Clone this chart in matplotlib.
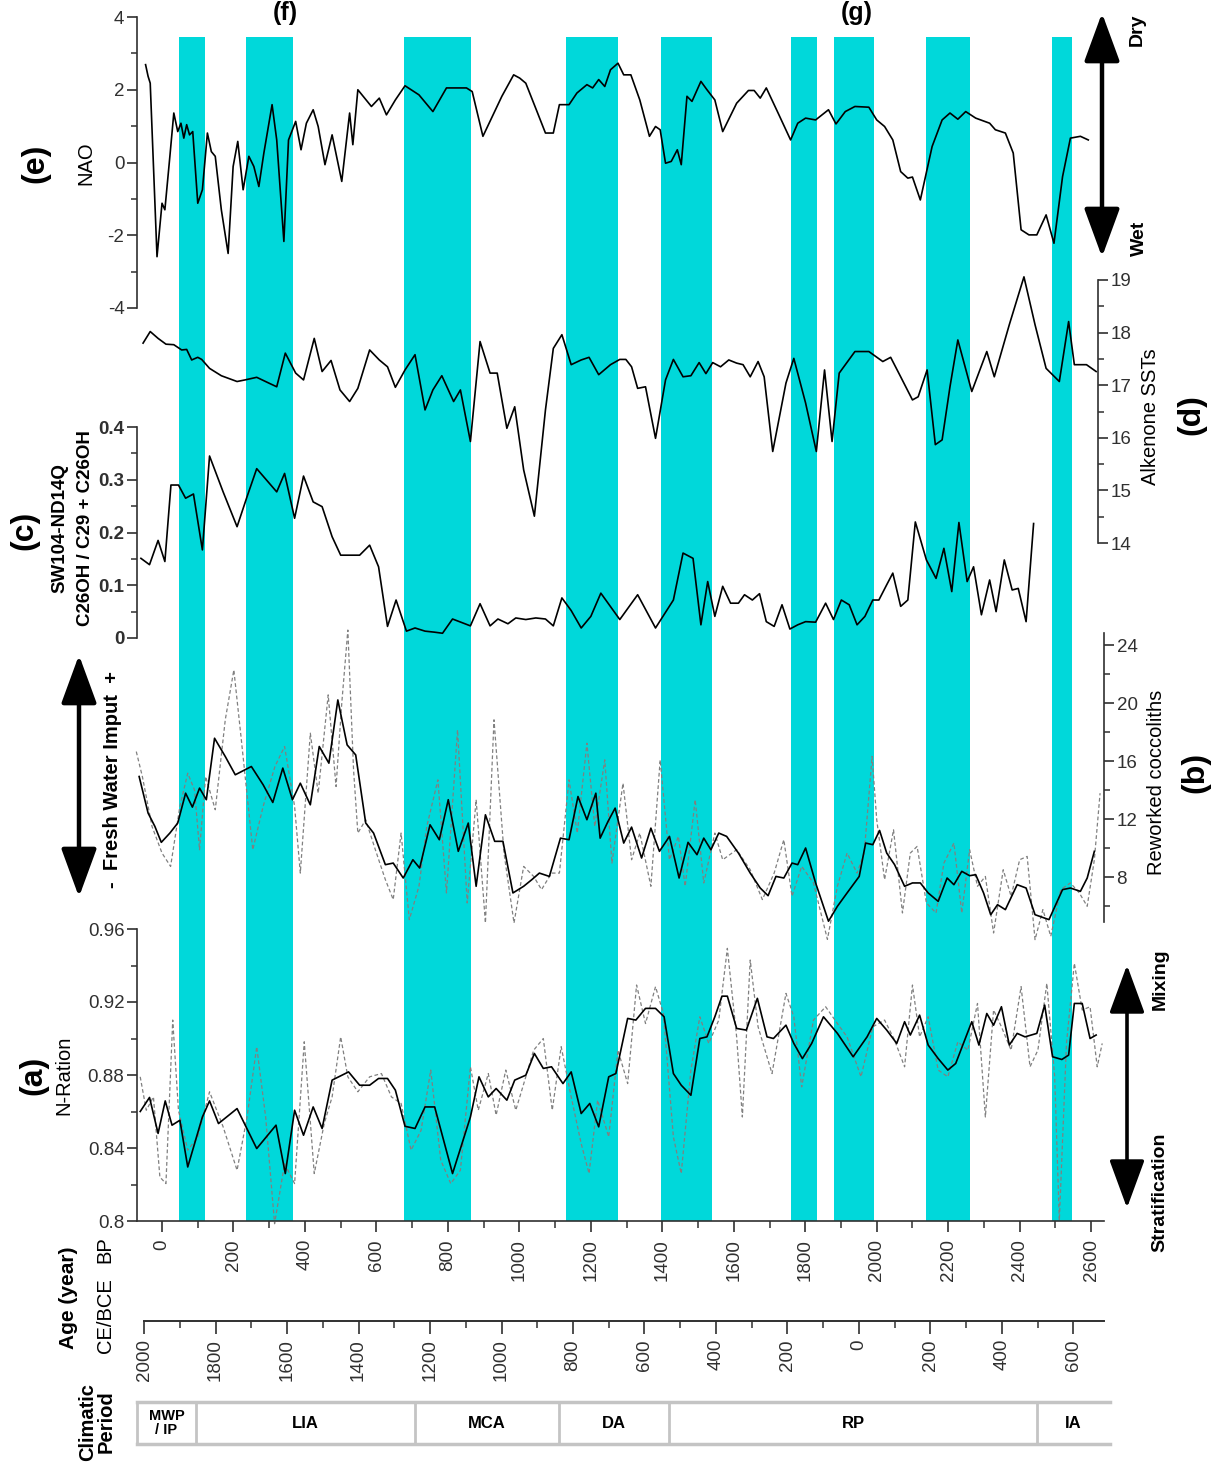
import matplotlib
matplotlib.use('Agg')
import matplotlib.pyplot as plt

plt.rcParams['font.family'] = ['Liberation Sans', 'DejaVu Sans']

# ---------------- data (x = age in years BP) ----------------
band_start_bp = [48, 235, 676, 1130, 1396, 1759, 1880, 2137, 2490]
band_end_bp = [120, 366, 865, 1275, 1538, 1832, 1993, 2262, 2546]

nao_bp = [-46,-39,-33,-14,0,8,22,33,44,53,61,69,77,86,100,113,127,138,149,166,185,199,212,227,243,257,271,285,308,321,341,354,374,389,404,423,437,456,476,503,525,534,548,586,608,628,653,680,719,758,796,852,868,898,951,984,1001,1018,1051,1073,1095,1112,1139,1161,1189,1205,1222,1239,1255,1276,1292,1312,1337,1364,1381,1394,1409,1425,1442,1453,1469,1483,1508,1525,1547,1569,1608,1641,1657,1674,1691,1724,1759,1779,1801,1829,1865,1886,1912,1939,1978,2000,2022,2045,2067,2087,2100,2122,2155,2183,2205,2227,2249,2277,2316,2332,2360,2382,2404,2426,2448,2474,2496,2520,2542,2570,2592]
nao_val = [2.69,2.37,2.18,-2.59,-1.12,-1.3,0.17,1.36,0.85,1.08,0.67,1.04,0.76,0.85,-1.12,-0.75,0.81,0.3,0.17,-1.3,-2.5,-0.11,0.58,-0.75,0.17,-0.11,-0.66,0.26,1.59,0.62,-2.17,0.62,1.13,0.35,1.08,1.45,0.99,-0.06,0.76,-0.52,1.36,0.49,2.0,1.54,1.77,1.31,1.72,2.11,1.86,1.4,2.05,2.05,1.95,0.72,1.82,2.41,2.32,2.18,1.36,0.81,0.81,1.59,1.59,1.91,2.14,2.05,2.28,2.09,2.55,2.73,2.41,2.41,1.72,0.72,0.99,0.9,-0.02,0.03,0.35,-0.06,1.82,1.68,2.23,2.0,1.72,0.85,1.63,1.98,1.98,1.77,2.05,1.36,0.62,1.08,1.22,1.17,1.45,1.06,1.4,1.54,1.52,1.17,0.99,0.62,-0.25,-0.43,-0.4,-1.03,0.44,1.17,1.36,1.19,1.4,1.22,1.08,0.9,0.81,0.26,-1.85,-1.99,-1.99,-1.44,-2.22,-0.39,0.67,0.72,0.62]

sst_bp = [-53,-33,-11,11,33,55,69,83,100,111,133,166,210,232,265,299,321,345,374,396,426,448,473,498,525,548,581,608,631,653,680,708,736,758,783,816,835,863,890,918,938,965,987,1012,1042,1073,1095,1119,1145,1173,1195,1222,1255,1281,1298,1314,1331,1353,1381,1409,1431,1458,1480,1503,1522,1541,1563,1586,1608,1626,1646,1668,1685,1709,1746,1768,1801,1831,1854,1875,1895,1939,1978,2017,2039,2067,2100,2116,2141,2164,2183,2205,2227,2266,2308,2329,2371,2412,2443,2474,2511,2537,2553,2587,2614]
sst_val = [17.8,18.02,17.89,17.78,17.77,17.67,17.68,17.48,17.53,17.49,17.32,17.18,17.07,17.1,17.15,17.04,16.97,17.61,17.23,17.1,17.89,17.26,17.47,16.91,16.69,16.94,17.67,17.48,17.35,16.96,17.29,17.58,16.53,16.91,17.18,16.69,16.91,15.93,17.83,17.23,17.23,16.18,16.59,15.39,14.51,16.53,17.7,17.96,17.39,17.48,17.53,17.2,17.39,17.49,17.49,17.35,16.94,16.97,15.99,17.1,17.49,17.16,17.18,17.43,17.22,17.43,17.35,17.48,17.42,17.39,17.16,17.45,17.16,15.74,17.04,17.51,16.66,15.74,17.29,15.93,17.23,17.64,17.64,17.45,17.53,17.16,16.72,16.78,17.29,15.87,15.96,16.97,17.86,16.88,17.64,17.16,18.15,19.06,18.15,17.32,17.07,18.21,17.39,17.39,17.26]

c26_bp = [-59,-35,-11,8,25,46,66,88,113,133,171,210,238,265,293,321,343,371,396,423,448,476,500,553,581,606,631,655,684,708,736,763,785,813,863,890,918,940,968,990,1018,1046,1073,1095,1119,1145,1173,1200,1228,1281,1331,1381,1431,1458,1486,1508,1527,1547,1569,1591,1613,1630,1652,1672,1691,1713,1735,1757,1779,1801,1829,1857,1879,1901,1923,1945,1967,1989,2006,2028,2045,2067,2087,2108,2139,2166,2188,2210,2230,2253,2271,2293,2316,2334,2357,2379,2396,2418,2439]
c26_val = [0.151,0.139,0.185,0.145,0.29,0.29,0.265,0.273,0.167,0.345,0.277,0.211,0.268,0.321,0.299,0.277,0.312,0.227,0.307,0.258,0.249,0.192,0.157,0.157,0.176,0.135,0.022,0.072,0.013,0.019,0.013,0.011,0.009,0.036,0.023,0.065,0.023,0.036,0.027,0.038,0.035,0.038,0.036,0.023,0.076,0.052,0.019,0.041,0.085,0.035,0.082,0.019,0.072,0.161,0.151,0.025,0.107,0.041,0.098,0.066,0.066,0.082,0.072,0.084,0.031,0.022,0.063,0.017,0.025,0.031,0.03,0.066,0.035,0.072,0.063,0.025,0.041,0.072,0.072,0.101,0.123,0.06,0.072,0.22,0.148,0.113,0.17,0.088,0.219,0.107,0.135,0.044,0.11,0.05,0.148,0.091,0.094,0.031,0.217]

cocco_bp = [-64,-39,-20,-2,22,44,66,85,105,124,147,177,205,250,283,310,338,365,387,415,440,467,492,518,542,570,592,625,647,675,702,721,750,776,801,829,857,879,905,931,954,982,1012,1035,1056,1084,1115,1139,1164,1189,1214,1226,1248,1268,1292,1314,1342,1368,1392,1420,1447,1472,1497,1516,1536,1558,1580,1613,1646,1674,1696,1718,1740,1763,1779,1801,1829,1865,1890,1917,1951,1969,1989,2008,2028,2050,2078,2100,2122,2144,2172,2197,2216,2238,2260,2277,2299,2319,2338,2360,2393,2418,2443,2482,2520,2542,2570,2589,2609]
cocco_solid = [14.93,12.41,11.49,10.39,11.03,11.72,13.78,12.82,14.13,13.33,17.57,16.31,15.05,15.62,14.36,13.14,15.51,13.33,14.47,12.98,17.0,15.85,20.21,17.11,16.42,11.72,11.03,8.85,8.96,7.93,9.19,8.62,11.6,10.57,13.33,9.77,11.72,7.36,12.29,10.46,10.46,6.9,7.36,7.82,8.27,8.04,10.68,10.57,13.55,11.95,13.78,10.68,11.83,12.75,10.34,11.44,9.31,11.37,9.77,10.8,7.93,10.39,9.54,10.68,9.88,11.03,10.8,9.65,8.27,7.24,6.71,8.04,7.93,8.96,8.85,10.0,7.59,4.95,5.98,6.9,8.04,10.34,10.23,11.21,9.65,8.85,7.36,7.59,7.59,6.9,6.32,7.93,7.47,8.39,8.09,8.16,6.9,5.4,6.09,5.75,7.47,7.24,5.4,5.06,7.13,7.24,7.01,7.93,9.77]
cocco_dash_bp = [-72,-55,-28,0,24,50,72,91,105,122,149,177,201,221,254,283,316,343,371,387,415,437,465,487,503,520,536,548,570,597,625,647,669,692,719,741,772,796,827,854,879,905,929,957,985,1012,1040,1062,1090,1112,1139,1162,1189,1211,1239,1259,1290,1314,1337,1368,1394,1420,1445,1464,1492,1516,1547,1569,1608,1646,1680,1713,1740,1763,1790,1823,1862,1890,1917,1945,1965,1987,2000,2022,2047,2072,2094,2113,2139,2166,2188,2216,2238,2260,2282,2304,2327,2354,2376,2400,2421,2443,2465,2487,2515,2542,2567,2589,2609,2625]
cocco_dash = [16.65,14.93,11.49,9.65,8.73,12.87,15.16,14.0,9.88,14.93,12.64,18.84,22.28,17.69,9.88,12.87,15.62,17.0,12.87,8.27,17.92,13.78,20.56,14.24,19.98,25.03,15.39,11.03,11.95,9.88,7.82,6.44,11.03,5.06,7.36,11.49,14.7,6.9,18.15,6.21,13.33,4.83,18.84,9.65,4.83,8.73,8.04,7.13,8.27,8.27,14.7,11.03,17.23,11.49,16.08,8.96,14.47,9.19,11.03,7.36,16.08,9.19,10.8,7.36,13.33,7.59,11.03,9.19,9.88,8.5,6.44,8.27,10.57,6.67,8.73,7.59,3.7,7.36,9.65,8.27,9.65,16.31,11.95,7.82,11.26,5.52,9.65,10.11,6.21,5.52,8.96,10.34,5.52,9.88,7.36,8.04,4.14,8.5,6.67,9.19,9.42,3.68,5.75,3.91,7.13,7.59,6.9,5.98,9.19,13.78]

nratio_bp = [-61,-35,-11,9,28,50,72,94,113,133,158,210,265,319,345,371,396,423,448,476,522,553,581,606,631,653,680,708,736,763,813,863,887,913,935,965,987,1018,1042,1067,1090,1122,1145,1173,1197,1222,1250,1270,1303,1326,1353,1381,1405,1431,1453,1480,1505,1525,1547,1567,1582,1608,1635,1666,1693,1711,1746,1768,1792,1818,1851,1890,1934,1973,2000,2028,2056,2078,2094,2120,2144,2172,2199,2221,2266,2286,2308,2327,2349,2371,2393,2415,2448,2470,2492,2518,2537,2553,2575,2597,2614]
nratio_solid = [0.86,0.8677,0.848,0.8658,0.8525,0.8552,0.8296,0.8443,0.857,0.8658,0.8534,0.8616,0.8397,0.8525,0.826,0.8607,0.847,0.8625,0.8507,0.8772,0.8817,0.8744,0.8744,0.8781,0.8781,0.8717,0.8519,0.8507,0.8625,0.8625,0.826,0.857,0.879,0.868,0.8726,0.8662,0.8772,0.8799,0.8918,0.8836,0.8845,0.8753,0.8817,0.8589,0.8644,0.8516,0.879,0.8808,0.911,0.9101,0.9165,0.9165,0.9119,0.8808,0.8744,0.8689,0.9,0.9009,0.9119,0.9232,0.9232,0.9055,0.9046,0.922,0.9009,0.9,0.9073,0.8973,0.889,0.8973,0.9119,0.9028,0.89,0.9009,0.911,0.9046,0.8973,0.9092,0.9019,0.9128,0.8964,0.889,0.8827,0.8863,0.9092,0.8964,0.9137,0.9073,0.9174,0.8964,0.9028,0.9009,0.9028,0.9183,0.89,0.8885,0.8909,0.9192,0.9192,0.9,0.9019]
nratio_dash_bp = [-61,-44,-24,-6,11,30,46,72,100,133,171,210,238,265,290,315,343,371,398,426,454,476,500,520,548,581,614,642,669,697,725,752,780,808,835,863,885,913,935,962,990,1018,1040,1067,1092,1117,1145,1173,1195,1219,1250,1276,1303,1328,1353,1381,1403,1431,1453,1480,1505,1530,1558,1582,1608,1624,1646,1668,1707,1746,1768,1790,1823,1857,1890,1917,1956,1989,2022,2050,2078,2100,2120,2144,2172,2199,2227,2255,2282,2304,2327,2349,2376,2404,2429,2451,2476,2498,2511,2531,2553,2575,2597,2617,2631]
nratio_dash = [0.879,0.8607,0.868,0.8241,0.8205,0.9101,0.8607,0.8388,0.8461,0.8708,0.8516,0.8278,0.857,0.8955,0.857,0.7985,0.8314,0.8205,0.8982,0.826,0.8534,0.868,0.9009,0.879,0.8708,0.879,0.8808,0.868,0.8644,0.8388,0.8497,0.8827,0.8333,0.8205,0.8278,0.8845,0.8607,0.8808,0.858,0.8827,0.8607,0.879,0.8936,0.9,0.8607,0.8955,0.868,0.8424,0.826,0.8662,0.8461,0.8936,0.8753,0.9293,0.9082,0.9284,0.9137,0.8461,0.826,0.8827,0.9119,0.8973,0.9101,0.9494,0.9009,0.857,0.943,0.9064,0.8808,0.9247,0.9119,0.8735,0.9101,0.9174,0.9082,0.9009,0.879,0.9064,0.9101,0.8991,0.8845,0.9293,0.9009,0.9119,0.8827,0.879,0.8982,0.8936,0.9192,0.857,0.9156,0.9064,0.8936,0.9284,0.8845,0.8936,0.9302,0.879,0.8004,0.8973,0.9412,0.9156,0.9174,0.8845,0.8973]

bp_ticks = list(range(0, 2601, 200))
ce_ticks = [2000, 1800, 1600, 1400, 1200, 1000, 800, 600, 400, 200, 0, -200, -400, -600]
period_names = ['MWP\n/ IP', 'LIA', 'MCA', 'DA', 'RP', 'IA']
period_bounds_bp = [-70, 95, 708, 1111, 1419, 2449, 2653]

# ---------------- layout helpers ----------------
W, H = 1223, 1472
fig = plt.figure(figsize=(W / 100, H / 100), dpi=100)
X0, X1 = 137, 1104
XLIM = (-70, 2636)
CYAN = '#00D8DA'
SPINE = '#303030'
TICKFS = 13.5


def rect(x0, y0, x1, y1):
    return [x0 / W, 1 - y1 / H, (x1 - x0) / W, (y1 - y0) / H]


def T(x, y, s, **kw):
    kw.setdefault('ha', 'center')
    kw.setdefault('va', 'center')
    return fig.text(x / W, 1 - y / H, s, **kw)


def arrow(x, ytop, ybot, lw=3.2):
    fig.add_artist(matplotlib.patches.FancyArrowPatch(
        (x / W, 1 - ytop / H), (x / W, 1 - ybot / H), transform=fig.transFigure,
        arrowstyle='<|-|>,head_length=1.5,head_width=0.55', mutation_scale=20,
        color='black', lw=lw, shrinkA=0, shrinkB=0))


def panel(y0, y1, ylim, side):
    ax = fig.add_axes(rect(X0, y0, X1, y1))
    ax.patch.set_visible(False)
    ax.set_xlim(*XLIM)
    ax.set_ylim(*ylim)
    for s in ['top', 'right', 'left', 'bottom']:
        ax.spines[s].set_visible(False)
    ax.spines[side].set_visible(True)
    ax.spines[side].set_color(SPINE)
    ax.spines[side].set_linewidth(1.2)
    ax.xaxis.set_visible(False)
    if side == 'right':
        ax.yaxis.tick_right()
    ax.tick_params(axis='y', which='major', direction='out', length=7, width=1.2,
                   colors=SPINE, labelsize=TICKFS, pad=2)
    ax.tick_params(axis='y', which='minor', direction='out', length=4, width=1.1,
                   colors=SPINE)
    return ax


def fmt(v):
    return ('%.2f' % v).rstrip('0').rstrip('.') if v != 0 else '0'


# ---------------- cyan bands ----------------
axb = fig.add_axes(rect(X0, 37, X1, 1221))
axb.set_xlim(*XLIM)
axb.set_ylim(0, 1)
axb.axis('off')
for a, b in zip(band_start_bp, band_end_bp):
    axb.axvspan(a, b, color=CYAN, lw=0)

# ---------------- (e) NAO ----------------
ax_e = panel(17, 308, (-4, 4), 'left')
ax_e.set_yticks([-4, -2, 0, 2, 4], ['-4', '-2', '0', '2', '4'])
ax_e.set_yticks([-3, -1, 1, 3], minor=True)
ax_e.plot(nao_bp, nao_val, color='black', lw=1.2, clip_on=False)

# ---------------- (d) SST ----------------
ax_d = panel(280, 543, (14, 19), 'right')
ax_d.spines['right'].set_position(('outward', -4))
ax_d.set_yticks([14, 15, 16, 17, 18, 19], ['14', '15', '16', '17', '18', '19'])
ax_d.set_yticks([14.5, 15.5, 16.5, 17.5, 18.5], minor=True)
ax_d.plot(sst_bp, sst_val, color='black', lw=1.2, clip_on=False)

# ---------------- (c) C26OH ratio ----------------
ax_c = panel(427, 638, (0, 0.4), 'left')
ct = [0, 0.1, 0.2, 0.3, 0.4]
ax_c.set_yticks(ct, [fmt(v) for v in ct], fontweight='bold')
ax_c.set_yticks([0.05, 0.15, 0.25, 0.35], minor=True)
ax_c.plot(c26_bp, c26_val, color='black', lw=1.2, clip_on=False)

# ---------------- (b) reworked coccoliths ----------------
slope_b = -16.0 / (877 - 645)
ax_bb = panel(633, 922, (8 + (922 - 877) * slope_b, 24 + (633 - 645) * slope_b), 'right')
ax_bb.set_yticks([8, 12, 16, 20, 24], ['8', '12', '16', '20', '24'])
ax_bb.set_yticks([6, 10, 14, 18, 22], minor=True)
ax_bb.plot(cocco_dash_bp, cocco_dash, color='#808080', lw=0.9, dashes=(3, 2), clip_on=False)
ax_bb.plot(cocco_bp, cocco_solid, color='black', lw=1.2, clip_on=False)

# ---------------- (a) N-ratio ----------------
ax_a = panel(929, 1221, (0.8, 0.96), 'left')
at = [0.8, 0.84, 0.88, 0.92, 0.96]
ax_a.set_yticks(at, [fmt(v) for v in at])
ax_a.set_yticks([0.82, 0.86, 0.90, 0.94], minor=True)
ax_a.spines['bottom'].set_visible(True)
ax_a.spines['bottom'].set_color(SPINE)
ax_a.spines['bottom'].set_linewidth(1.2)
ax_a.xaxis.set_visible(True)
ax_a.set_xticks(bp_ticks, [str(v) for v in bp_ticks], rotation=90)
ax_a.set_xticks(list(range(100, 2600, 200)), minor=True)
ax_a.tick_params(axis='x', which='major', direction='out', length=8, width=1.2,
                 colors=SPINE, labelsize=TICKFS, pad=5)
ax_a.tick_params(axis='x', which='minor', direction='out', length=5, width=1.1, colors=SPINE)
ax_a.plot(nratio_dash_bp, nratio_dash, color='#808080', lw=0.9, dashes=(3, 2), clip_on=False)
ax_a.plot(nratio_bp, nratio_solid, color='black', lw=1.2, clip_on=False)

# ---------------- CE/BCE axis ----------------
ax_ce = fig.add_axes(rect(X0, 1320, X1, 1321))
ax_ce.patch.set_visible(False)
ax_ce.set_xlim(*XLIM)
for s in ['top', 'right', 'left']:
    ax_ce.spines[s].set_visible(False)
ax_ce.spines['bottom'].set_bounds(-50, XLIM[1])
ax_ce.spines['bottom'].set_color(SPINE)
ax_ce.spines['bottom'].set_linewidth(1.4)
ax_ce.yaxis.set_visible(False)
ax_ce.set_xticks([1950 - c for c in ce_ticks], [str(abs(c)) for c in ce_ticks], rotation=90)
ax_ce.set_xticks([1950 - c for c in range(1900, -700, -200)], minor=True)
ax_ce.tick_params(axis='x', which='major', direction='out', length=9, width=1.2,
                  colors=SPINE, labelsize=TICKFS, pad=4)
ax_ce.tick_params(axis='x', which='minor', direction='out', length=5, width=1.1, colors=SPINE)

# ---------------- climatic period table ----------------
ax_p = fig.add_axes(rect(X0, 1402, X1, 1444))
ax_p.set_xlim(*XLIM)
ax_p.set_ylim(0, 1)
ax_p.axis('off')
GREY = '#c4c4c4'
ax_p.plot([period_bounds_bp[0], period_bounds_bp[-1]], [1, 1], color=GREY, lw=2.5, clip_on=False)
ax_p.plot([period_bounds_bp[0], period_bounds_bp[-1]], [0, 0], color=GREY, lw=2.5, clip_on=False)
for b in period_bounds_bp[:-1]:
    ax_p.plot([b, b], [0, 1], color=GREY, lw=2.0, clip_on=False)
for i, name in enumerate(period_names):
    mid = 0.5 * (period_bounds_bp[i] + period_bounds_bp[i + 1])
    ax_p.text(mid, 0.5, name, ha='center', va='center', fontweight='bold',
              fontsize=10.5 if '\n' in name else 12, linespacing=1.0, clip_on=False)

# ---------------- labels and annotations ----------------
LAB = 14.5
T(35, 163, '(e)', rotation=90, fontsize=23, fontweight='bold')
T(86, 163, 'NAO', rotation=90, fontsize=LAB)
T(24, 530, '(c)', rotation=90, fontsize=23, fontweight='bold')
T(60, 528, 'SW104-ND14Q', rotation=90, fontsize=13.5, fontweight='bold')
T(85, 528, 'C26OH / C29 + C26OH', rotation=90, fontsize=13.5, fontweight='bold')
T(113, 780, '-  Fresh Water Imput  +', rotation=90, fontsize=14.5, fontweight='bold')
arrow(79, 655, 897)
T(33, 1075, '(a)', rotation=90, fontsize=23, fontweight='bold')
T(64, 1075, 'N-Ration', rotation=90, fontsize=LAB)
T(69, 1298, 'Age (year)', rotation=90, fontsize=15, fontweight='bold')
T(105, 1250, 'BP', rotation=90, fontsize=LAB)
T(105, 1316, 'CE/BCE', rotation=90, fontsize=LAB)
T(97, 1422, 'Climatic\nPeriod', rotation=90, fontsize=14.5, fontweight='bold', linespacing=1.0)

T(1137, 30, 'Dry', rotation=90, fontsize=14, fontweight='bold')
T(1139, 238, 'Wet', rotation=90, fontsize=14, fontweight='bold')
arrow(1102, 13, 257)
T(1150, 417, 'Alkenone SSTs', rotation=90, fontsize=LAB)
T(1191, 415, '(d)', rotation=90, fontsize=23, fontweight='bold')
T(1156, 782, 'Reworked coccoliths', rotation=90, fontsize=LAB)
T(1195, 772, '(b)', rotation=90, fontsize=23, fontweight='bold')
T(1160, 979, 'Mixing', rotation=90, fontsize=14, fontweight='bold')
T(1160, 1192, 'Stratification', rotation=90, fontsize=14, fontweight='bold')
arrow(1127, 965, 1208, lw=2.6)

# panel letters at the very top (kept fully inside the figure)
T(285, 1, '(f)', fontsize=18, fontweight='bold', va='top')
T(857, 1, '(g)', fontsize=18, fontweight='bold', va='top')

fig.savefig('out.png', dpi=100, facecolor='white')
